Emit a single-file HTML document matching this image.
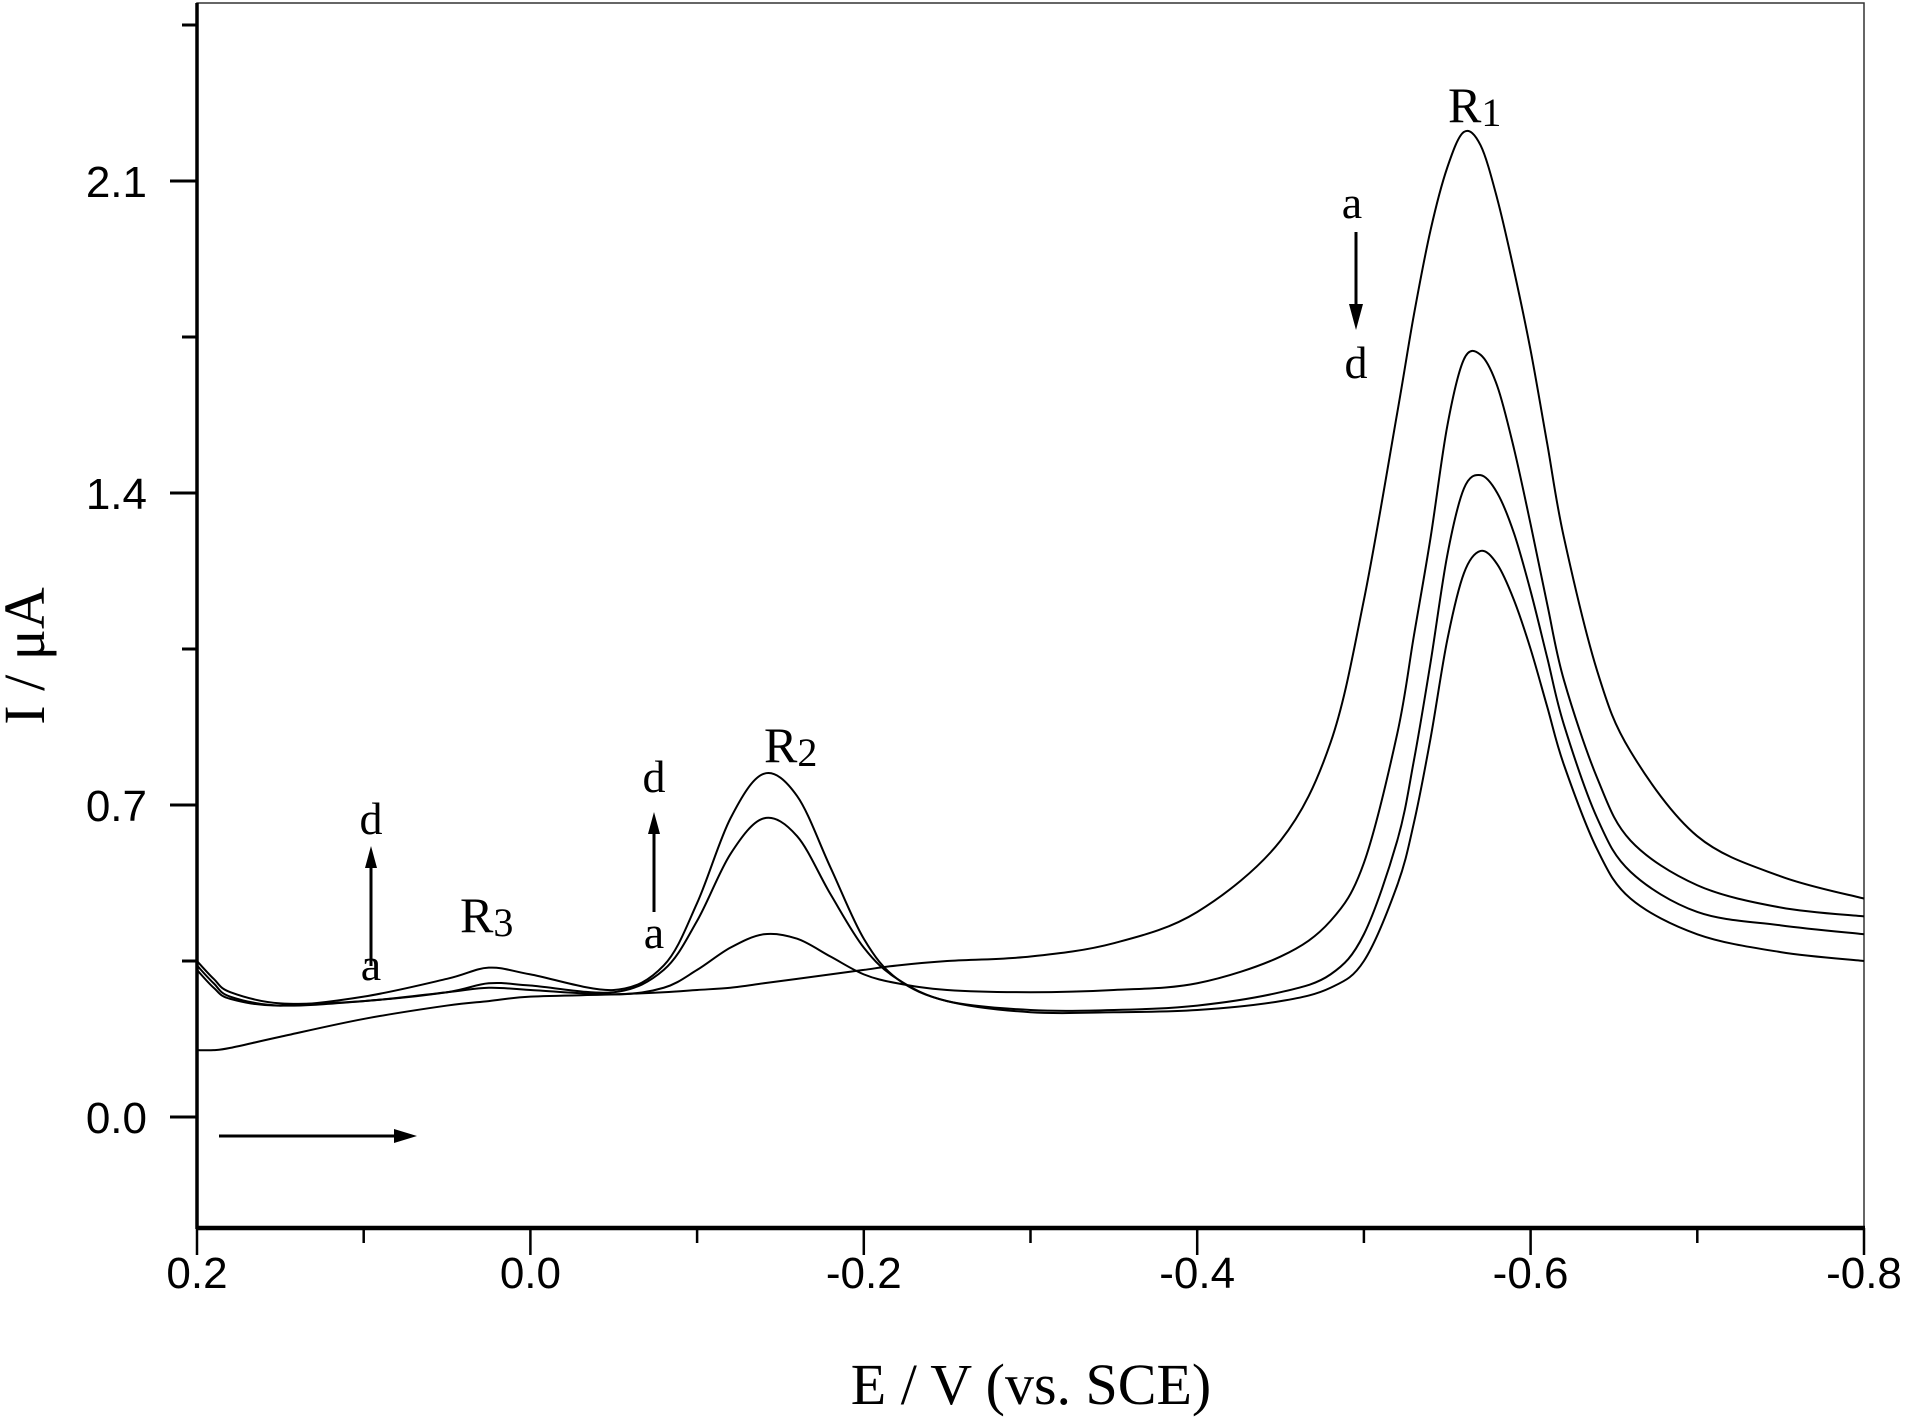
<!DOCTYPE html>
<html><head><meta charset="utf-8"><style>
html,body{margin:0;padding:0;background:#fff;}
svg{display:block;}
</style></head><body>
<svg id="chart" width="1906" height="1420" viewBox="0 0 1906 1420" xmlns="http://www.w3.org/2000/svg">
<g id="axes"></g>
<g id="series"></g>
<g id="annot" font-family="'Liberation Serif', serif" fill="#000">
  <text x="1448" y="122" font-size="50">R<tspan font-size="40" dy="4">1</tspan></text>
  <text x="764" y="762" font-size="50">R<tspan font-size="40" dy="4">2</tspan></text>
  <text x="460" y="932" font-size="50">R<tspan font-size="40" dy="4">3</tspan></text>
  <text x="1352" y="218" font-size="46" text-anchor="middle">a</text>
  <text x="1356" y="378" font-size="46" text-anchor="middle">d</text>
  <text x="371" y="834" font-size="46" text-anchor="middle">d</text>
  <text x="371" y="980" font-size="46" text-anchor="middle">a</text>
  <text x="654" y="792" font-size="46" text-anchor="middle">d</text>
  <text x="654" y="948" font-size="46" text-anchor="middle">a</text>
  <g>
    <line x1="1356" y1="232" x2="1356" y2="306" stroke="#000" stroke-width="3"/>
    <polygon points="1349,304 1363,304 1356,330" fill="#000"/>
  </g>
  <g>
    <line x1="371" y1="966" x2="371" y2="866" stroke="#000" stroke-width="3"/>
    <polygon points="365,868 377,868 371,846" fill="#000"/>
  </g>
  <g>
    <line x1="654" y1="912" x2="654" y2="832" stroke="#000" stroke-width="3"/>
    <polygon points="648,834 660,834 654,812" fill="#000"/>
  </g>
  <g>
    <line x1="219" y1="1136" x2="396" y2="1136" stroke="#000" stroke-width="3"/>
    <polygon points="394,1129 394,1143 417,1136" fill="#000"/>
  </g>
</g>
</svg>
<script>
const potentials = [0.2,0.19,0.18,0.15,0.1,0.05,0.025,0,-0.05,-0.08,-0.1,-0.12,-0.14,-0.16,-0.18,-0.2,-0.22,-0.25,-0.3,-0.35,-0.4,-0.45,-0.48,-0.5,-0.52,-0.53,-0.54,-0.55,-0.56,-0.57,-0.58,-0.59,-0.6,-0.61,-0.62,-0.64,-0.66,-0.7,-0.75,-0.8];
const seriesA = [0.15,0.15,0.155,0.18,0.22,0.25,0.26,0.27,0.275,0.28,0.285,0.29,0.30,0.31,0.32,0.33,0.34,0.35,0.36,0.39,0.46,0.62,0.84,1.16,1.58,1.80,1.99,2.13,2.21,2.18,2.06,1.90,1.72,1.51,1.30,1.00,0.82,0.63,0.54,0.49];
const seriesB = [0.35,0.31,0.28,0.255,0.26,0.28,0.29,0.285,0.275,0.29,0.33,0.38,0.41,0.40,0.36,0.32,0.30,0.285,0.28,0.285,0.30,0.36,0.44,0.57,0.86,1.08,1.30,1.55,1.70,1.71,1.64,1.50,1.33,1.15,0.98,0.76,0.62,0.52,0.47,0.45];
const seriesC = [0.34,0.30,0.27,0.25,0.26,0.28,0.30,0.295,0.28,0.33,0.44,0.59,0.67,0.63,0.50,0.38,0.31,0.26,0.24,0.24,0.25,0.28,0.32,0.41,0.62,0.80,1.02,1.26,1.41,1.44,1.40,1.31,1.18,1.03,0.88,0.67,0.55,0.46,0.43,0.41];
const seriesD = [0.33,0.29,0.265,0.25,0.27,0.31,0.335,0.32,0.285,0.34,0.48,0.67,0.77,0.72,0.56,0.40,0.31,0.26,0.235,0.235,0.24,0.26,0.29,0.35,0.52,0.66,0.85,1.07,1.22,1.27,1.24,1.16,1.05,0.92,0.79,0.60,0.49,0.41,0.37,0.35];
const xTicks = [0.2,0.0,-0.2,-0.4,-0.6,-0.8];
const xTickLabels = ["0.2","0.0","-0.2","-0.4","-0.6","-0.8"];
const xMinorTicks = [0.1,-0.1,-0.3,-0.5,-0.7];
const yTicks = [0.0,0.7,1.4,2.1];
const yTickLabels = ["0.0","0.7","1.4","2.1"];
const yMinorTicks = [0.35,1.05,1.75,2.45];

const NS = "http://www.w3.org/2000/svg";
const X0 = 197, X1 = 1864, Y0 = 1228, Ytop = 3;
function xs(e){ return X0 + (0.2 - e) / 1.0 * (X1 - X0); }
function ys(i){ return 1117 - i / 0.7 * 312; }
function mk(tag, attrs, parent){
  const el = document.createElementNS(NS, tag);
  for (const k in attrs) el.setAttribute(k, attrs[k]);
  parent.appendChild(el);
  return el;
}
const axes = document.getElementById("axes");
let el;
el = mk("rect",{x:X0,y:Ytop,width:X1-X0,height:Y0-Ytop,fill:"none",stroke:"#333","stroke-width":1.5},axes);


el = mk("line",{x1:X0,y1:Ytop,x2:X0,y2:Y0+1,stroke:"#000","stroke-width":3.5},axes);


el = mk("line",{x1:X0-1,y1:Y0,x2:X1+1,y2:Y0,stroke:"#000","stroke-width":4.5},axes);


xTicks.forEach((v,k)=>{
  const t = mk("line",{x1:xs(v),y1:Y0,x2:xs(v),y2:Y0+27,stroke:"#000","stroke-width":2.5},axes);
  
  
  const l = mk("text",{x:xs(v),y:Y0+60,"font-size":44,"font-family":"'Liberation Sans', sans-serif","text-anchor":"middle"},axes);
  l.textContent = xTickLabels[k];
  
  
});
xMinorTicks.forEach(v=>{
  const t = mk("line",{x1:xs(v),y1:Y0,x2:xs(v),y2:Y0+15,stroke:"#000","stroke-width":2.5},axes);
  
  
});
yTicks.forEach((v,k)=>{
  const t = mk("line",{x1:X0-27,y1:ys(v),x2:X0,y2:ys(v),stroke:"#000","stroke-width":3},axes);
  
  
  const l = mk("text",{x:X0-50,y:ys(v)+16,"font-size":44,"font-family":"'Liberation Sans', sans-serif","text-anchor":"end"},axes);
  l.textContent = yTickLabels[k];
  
  
});
yMinorTicks.forEach(v=>{
  const t = mk("line",{x1:X0-15,y1:ys(v),x2:X0,y2:ys(v),stroke:"#000","stroke-width":3},axes);
  
  
});
el = mk("text",{x:1031,y:1404,"font-size":58,"font-family":"'Liberation Serif', serif","text-anchor":"middle"},axes);
el.textContent = "E / V (vs. SCE)";


el = mk("text",{x:0,y:0,"font-size":58,"font-family":"'Liberation Serif', serif","text-anchor":"middle",transform:"translate(44,656) rotate(-90)"},axes);
el.textContent = "I / μA";



function pathFor(vals){
  const p = potentials.map((e,k)=>[xs(e), ys(vals[k])]);
  let d = "M"+p[0][0]+","+p[0][1];
  for (let k=0;k<p.length-1;k++){
    const p0=p[Math.max(0,k-1)], p1=p[k], p2=p[k+1], p3=p[Math.min(p.length-1,k+2)];
    const c1=[p1[0]+(p2[0]-p0[0])/6, p1[1]+(p2[1]-p0[1])/6];
    const c2=[p2[0]-(p3[0]-p1[0])/6, p2[1]-(p3[1]-p1[1])/6];
    d += " C"+c1[0]+","+c1[1]+" "+c2[0]+","+c2[1]+" "+p2[0]+","+p2[1];
  }
  return d;
}
const sg = document.getElementById("series");
[["curve-a",seriesA],["curve-b",seriesB],["curve-c",seriesC],["curve-d",seriesD]].forEach(([n,v])=>{
  const pth = mk("path",{d:pathFor(v),fill:"none",stroke:"#000","stroke-width":2},sg);
  
  
});
</script>
</body></html>
